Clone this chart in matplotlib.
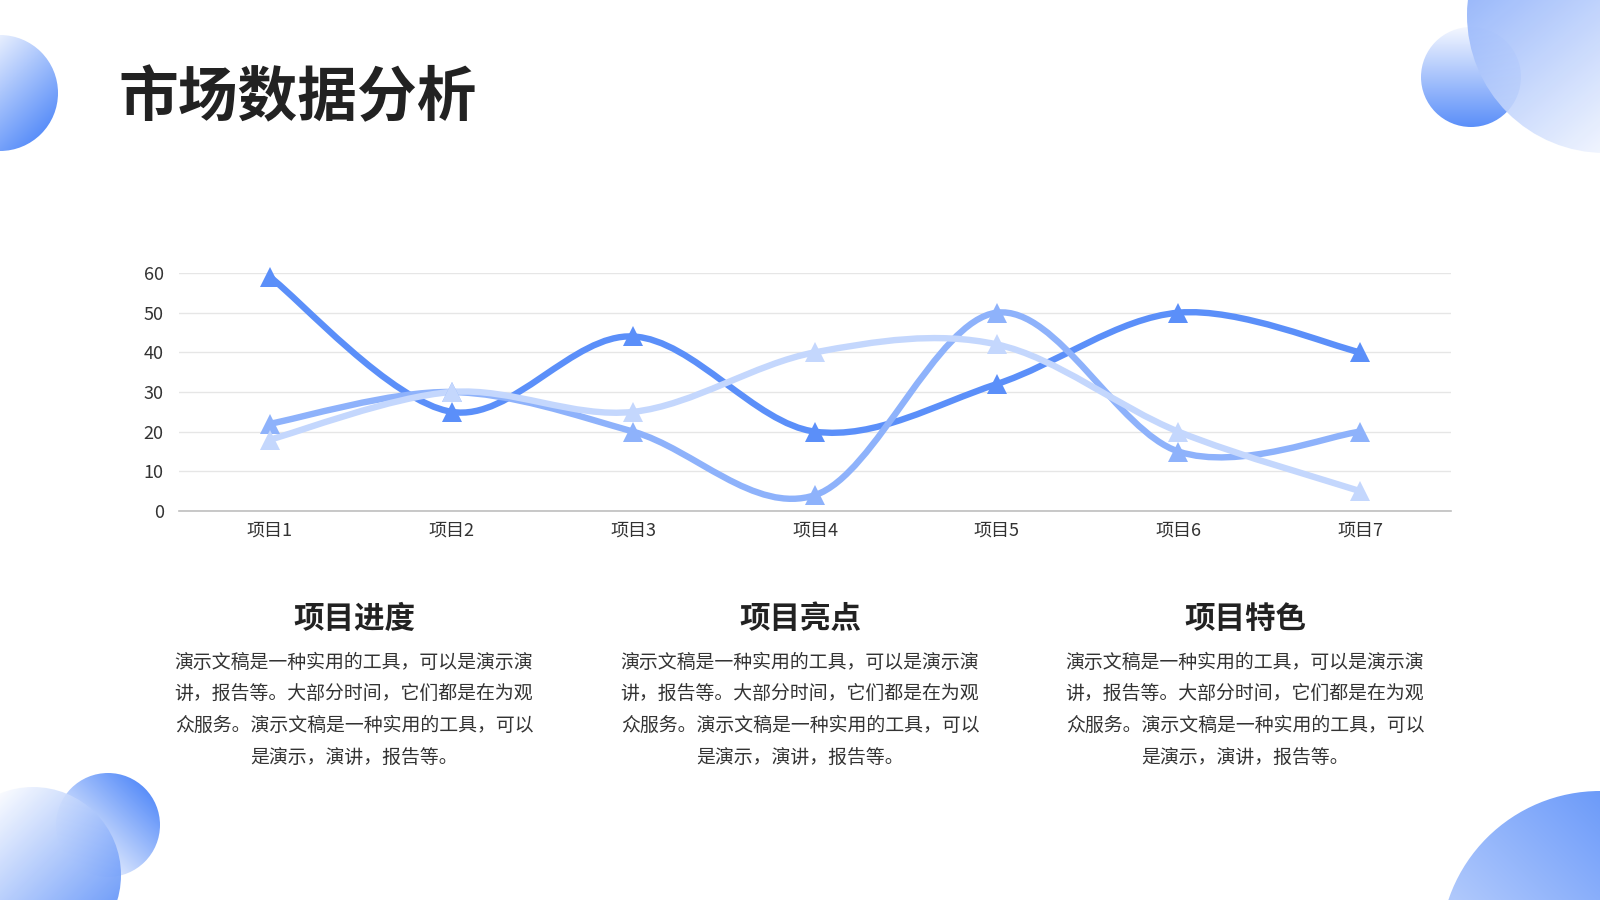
import numpy as np
import matplotlib.pyplot as plt
from matplotlib.patches import Circle, PathPatch
from matplotlib.path import Path
from matplotlib.colors import to_rgb

plt.rcParams['font.family'] = ['Noto Sans CJK SC', 'DejaVu Sans']

# data
categories = ['项目1', '项目2', '项目3', '项目4', '项目5', '项目6', '项目7']
series_a = [59, 25, 44, 20, 32, 50, 40]
series_b = [22, 30, 20, 4, 50, 15, 20]
series_c = [18, 30, 25, 40, 42, 20, 5]
y_ticks = [0, 10, 20, 30, 40, 50, 60]

title = '市场数据分析'
headings = ['项目进度', '项目亮点', '项目特色']
body_lines = ['演示文稿是一种实用的工具，可以是演示演',
              '讲，报告等。大部分时间，它们都是在为观',
              '众服务。演示文稿是一种实用的工具，可以',
              '是演示，演讲，报告等。']

colors = ['#5b8ff9', '#8eb2fb', '#c4d7fd']
W, H = 1600, 900


def smooth_path(xs, ys):
    # Catmull-Rom style cubic bezier through the points
    pts = np.column_stack([xs, ys]).astype(float)
    n = len(pts)
    verts = [pts[0]]
    codes = [Path.MOVETO]
    for i in range(n - 1):
        p0 = pts[max(i - 1, 0)]
        p1 = pts[i]
        p2 = pts[i + 1]
        p3 = pts[min(i + 2, n - 1)]
        c1 = p1 + (p2 - p0) / 6
        c2 = p2 - (p3 - p1) / 6
        verts += [c1, c2, p2]
        codes += [Path.CURVE4] * 3
    return Path(verts, codes)


def gradient_circle(ax, cx, cy, r, c0, c1, angle, alpha=1.0, z=1):
    # colour goes from c0 to c1 along direction angle (degrees, screen coords, y down)
    ext = [cx - r, cx + r, cy + r, cy - r]
    xx, yy = np.meshgrid(np.linspace(cx - r, cx + r, 200), np.linspace(cy - r, cy + r, 200))
    a = np.deg2rad(angle)
    t = ((xx - cx) * np.cos(a) + (yy - cy) * np.sin(a)) / (2 * r) + 0.5
    t = np.clip(t, 0, 1)[..., None]
    img = (1 - t) * np.array(to_rgb(c0)) + t * np.array(to_rgb(c1))
    im = ax.imshow(img, extent=ext, origin='upper', alpha=alpha, zorder=z, interpolation='bilinear')
    circ = Circle((cx, cy), r, transform=ax.transData, facecolor='none', edgecolor='none')
    ax.add_patch(circ)
    im.set_clip_path(circ)


fig = plt.figure(figsize=(16, 9), dpi=100)
fig.patch.set_facecolor('white')

bg = fig.add_axes([0, 0, 1, 1], zorder=0)
bg.set_xlim(0, W)
bg.set_ylim(H, 0)
bg.axis('off')

# decorative circles
gradient_circle(bg, 0, 93, 58, '#ffffff', '#5b8ff9', 45)
gradient_circle(bg, 1471, 77, 50, '#f4f7ff', '#5b8ff9', 90, z=1)
gradient_circle(bg, 1605, 15, 138, '#7fa6fa', '#ffffff', 50, alpha=0.9, z=2)
gradient_circle(bg, 108, 825, 52, '#5b8ff9', '#ffffff', 135, z=1)
gradient_circle(bg, 33, 875, 88, '#ffffff', '#5b8ff9', 45, alpha=0.9, z=2)
gradient_circle(bg, 1600, 951, 160, '#5b8ff9', '#d2e0fd', 135, z=1)
bg.set_xlim(0, W)
bg.set_ylim(H, 0)

bg.text(118, 99, title, fontsize=43, fontweight='bold', color='#222222',
        ha='left', va='center')

col_x = [354, 800, 1245]
for cx, head in zip(col_x, headings):
    bg.text(cx, 619, head, fontsize=22, fontweight='bold', color='#222222',
            ha='center', va='center')
    for k, line in enumerate(body_lines):
        bg.text(cx, 662 + k * 31.7, line, fontsize=13.6, color='#333333',
                ha='center', va='center')

# line chart
ax = fig.add_axes([179 / W, 1 - 511 / H, (1451 - 179) / W, (511 - 273) / H], zorder=3)
ax.patch.set_alpha(0)
x = np.arange(len(categories))
ax.set_xlim(-0.5, len(categories) - 0.5)
ax.set_ylim(0, 60)

for vals, col in zip([series_a, series_b, series_c], colors):
    ax.add_patch(PathPatch(smooth_path(x, vals), facecolor='none', edgecolor=col,
                           lw=4.6, capstyle='round', joinstyle='round', clip_on=False))
    ax.plot(x, vals, linestyle='none', marker='^', markersize=14, color=col,
            markeredgewidth=0, clip_on=False)

ax.set_yticks(y_ticks)
ax.set_xticks(x)
ax.set_xticklabels(categories)
ax.grid(axis='y', color='#e6e6e6', lw=1)
ax.set_axisbelow(True)
for s in ['top', 'right', 'left']:
    ax.spines[s].set_visible(False)
ax.spines['bottom'].set_color('#bfbfbf')
ax.spines['bottom'].set_linewidth(1.2)
ax.tick_params(axis='both', length=0, labelsize=13, labelcolor='#333333')
ax.tick_params(axis='y', pad=11)
ax.tick_params(axis='x', pad=7.5)

fig.savefig('out.png', dpi=100, facecolor='white')
